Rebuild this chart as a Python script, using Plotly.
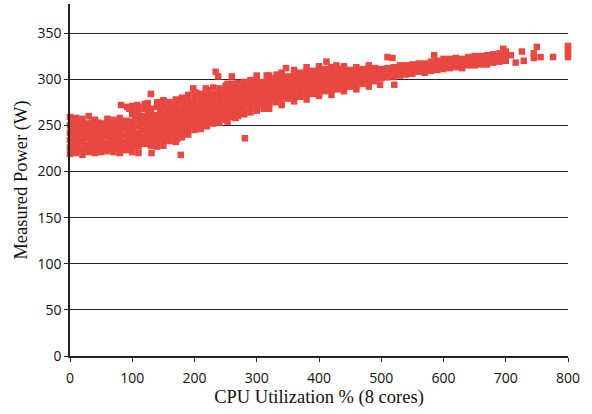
import plotly.graph_objects as go

cpu_util = [0,10,20,30,40,50,60,70,80,90,100,110,120,130,140,150,160,170,180,190,
            200,210,220,230,240,250,260,270,280,290,300,310,320,330,340,350,360,370,380,390,
            400,410,420,430,440,450,460,470,480,490,500,510,520,530,540,550,560,570,580,590,
            600,610,620,630,640,650,660,670,680,690,700]

power_row1 = [219,220,218,221,220,221,222,221,220,223,221,227,230,228,233,234,238,237,242,246,
              250,250,254,256,258,260,263,265,265,269,270,272,273,275,277,279,280,281,283,284,
              285,287,288,289,290,292,293,295,297,298,301,302,303,304,305,306,308,307,309,310,
              311,312,313,312,315,315,316,316,318,319,320]
power_row2 = [226,228,225,228,229,227,230,229,228,231,230,234,237,236,240,242,245,245,249,253,
              256,257,260,263,264,267,269,271,272,275,277,278,280,281,283,285,286,287,288,289,
              290,291,293,294,295,296,297,298,300,300,304,304,306,307,307,309,310,310,312,313,
              314,314,316,315,317,317,318,319,321,321,323]
power_row3 = [234,235,233,236,236,235,238,237,236,239,238,241,245,243,247,249,252,252,256,259,
              262,263,266,268,270,273,275,277,278,280,282,284,285,287,288,290,291,292,293,294,
              295,296,297,298,299,300,301,302,303,303,306,306,308,309,310,311,312,312,314,315,
              316,316,318,317,319,319,320,321,323,322,325]
power_row4 = [242,243,241,243,244,242,245,245,244,247,246,249,252,250,254,256,259,258,262,265,
              268,269,272,273,275,278,280,282,283,285,287,289,290,292,293,295,296,297,298,299,
              300,300,302,302,303,304,304,305,306,306,308,308,310,311,312,312,313,314,315,316,
              318,318,320,319,321,321,322,322,324,324,326]
power_row5 = [250,250,248,251,250,249,252,251,250,254,254,257,259,257,261,263,265,264,268,271,
              274,274,277,279,280,283,285,286,288,290,292,293,295,296,298,299,301,302,303,304,
              305,305,307,307,307,307,308,308,309,309,310,309,311,313,314,314,315,315,317,318,
              320,320,321,320,322,323,324,324,325,326,328]
power_row6 = [259,258,257,260,256,252,257,256,258,255,262,264,268,262,270,272,270,272,275,277,
              280,278,283,284,285,288,289,291,292,294,297,297,299,301,302,303,306,307,309,309,
              310,311,311,311,310,310,311,311,312,312,311,312,313,315,315,316,317,317,319,320,
              322,322,323,322,324,325,325,326,327,328,330]

cpu_fill = [5,15,25,35,45,55,65,75,85,95,105,115,125,135,145,155,165,175,185,195]
fill_row1 = [222,224,222,225,224,225,226,225,224,227,228,231,234,233,237,239,242,242,246,250]
fill_row2 = [230,232,229,232,233,231,234,233,232,235,234,238,241,240,244,246,249,249,253,256]
fill_row3 = [238,239,237,240,240,239,242,241,240,243,242,245,249,247,251,253,256,255,259,262]
fill_row4 = [246,247,245,247,247,246,249,248,247,250,250,253,256,254,258,260,262,261,265,268]
fill_row5 = [254,255,252,253,253,250,254,254,254,251,258,260,263,259,266,268,267,268,271,274]

cpu_mid = [205,215,225,235,245,255,265,275,285,295,305,315,325,335,345,355,365,375,385,395,
           405,415,425,435,445,455,465,475,485,495]
mid_row1 = [253,256,259,261,263,266,268,271,272,275,276,278,279,281,282,284,285,287,288,289,
            290,291,293,295,295,297,298,299,301,302]
mid_row2 = [262,265,268,270,272,275,277,279,281,283,284,286,287,289,290,292,293,294,295,296,
            297,298,299,300,301,302,303,304,305,306]
mid_row3 = [271,275,277,279,282,284,285,288,290,291,293,294,296,298,299,300,302,303,303,305,
            306,306,306,307,307,307,309,309,310,310]

lower_edge_x = [150,160,170,180,190,200,210,220,230,240,250,260,270,280,290,300,320,340,360,380,
                400,420,440,460,480]
lower_edge_y = [228,233,232,237,240,245,246,249,252,253,256,259,260,262,264,266,268,272,276,278,
                282,283,287,289,292]
upper_edge_x = [100,110,120,130,140,150,160,170,180,190,200,210,220,230,240,250,260,270,280,290,
                300,320,340,360,380,400,420,440,460,480]
upper_edge_y = [267,270,273,268,275,277,275,278,280,283,286,284,288,291,290,293,295,296,297,299,
                302,304,307,310,313,314,313,314,313,315]

outlier_x = [82,130,125,110,131,140,172,178,234,238,260,253,253,266,281,311,347,332,316,300,
             198,218,203,412,428,510,518,521,498,585,696,726,750,716,729,745,756,745,776,
             800,800,800,800,708,690,100,108,92,150,95]
outlier_y = [272,284,274,220,220,227,235,218,308,303,303,295,254,258,236,268,312,305,304,304,
             290,290,285,319,315,324,323,294,294,326,333,330,335,318,320,323,324,328,324,
             324,328,332,336,326,323,271,272,270,277,268]

x_ticks = [0,100,200,300,400,500,600,700,800]
y_ticks = [0,50,100,150,200,250,300,350]

xs, ys = [], []
for row in [power_row1, power_row2, power_row3, power_row4, power_row5, power_row6]:
    xs += cpu_util
    ys += row
for row in [fill_row1, fill_row2, fill_row3, fill_row4, fill_row5]:
    xs += cpu_fill
    ys += row
for row in [mid_row1, mid_row2, mid_row3]:
    xs += cpu_mid
    ys += row
xs += lower_edge_x + upper_edge_x + outlier_x
ys += lower_edge_y + upper_edge_y + outlier_y

RED = "#E84742"
TICK_FONT = dict(family="Open Sans", size=14, color="#111111")
TITLE_FONT = dict(family="Liberation Serif", size=18.5, color="#111111")

fig = go.Figure(go.Scatter(
    x=xs, y=ys, mode="markers", cliponaxis=False,
    marker=dict(symbol="square", size=6.5, color=RED, line=dict(width=0)),
    showlegend=False))
fig.update_layout(
    width=592, height=414, paper_bgcolor="white", plot_bgcolor="white",
    margin=dict(l=69.5, r=24, t=4, b=58, autoexpand=False))
fig.update_xaxes(range=[0, 800], tickvals=x_ticks, showgrid=False, zeroline=False, automargin=True,
                 showline=True, linecolor="#222222", linewidth=1.5, ticklabelstandoff=4,
                 ticks="outside", ticklen=4, tickcolor="#222222", tickwidth=1,
                 tickfont=TICK_FONT, title=dict(text="CPU Utilization % (8 cores)", font=TITLE_FONT, standoff=5))
fig.update_yaxes(range=[0, 381.5], tickvals=y_ticks, showgrid=True, gridcolor="#222222", gridwidth=1.2,
                 zeroline=False, showline=True, linecolor="#222222", linewidth=1.5, automargin=False,
                 ticks="outside", ticklen=4, tickcolor="#222222", tickwidth=1,
                 tickfont=TICK_FONT, title=dict(text="Measured Power (W)", font=TITLE_FONT, standoff=5))
fig.write_html("out.html", config=dict(displayModeBar=False),
               post_script="document.body.style.margin='0';document.documentElement.style.overflow='hidden';")
